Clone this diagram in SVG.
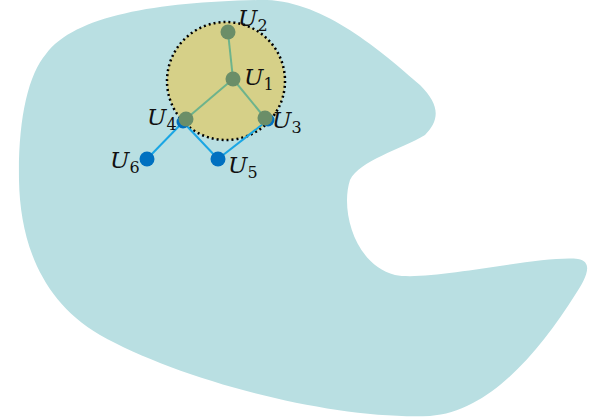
<svg xmlns="http://www.w3.org/2000/svg" width="589" height="420" viewBox="0 0 589 420">
<style>
.lbl{font-family:"DejaVu Serif","Liberation Serif",serif;font-style:italic;font-size:23px;fill:#111}
.sub{font-size:16px;font-style:normal}
.g{fill:#6B8E68}
.b{fill:#0070C0}
.ge{stroke:#6DB38C;stroke-width:2;fill:none}
.be{stroke:#1AA6E4;stroke-width:2;fill:none}
</style>
<path id="region" d="M 46 54 C 75 15, 160 2, 260 0 C 320 -2, 380 50, 420 85 C 440 105, 440 120, 425 135 C 400 150, 360 160, 350 180 C 340 210, 355 265, 395 275 C 430 282, 540 255, 578 259 C 595 262, 585 280, 575 295 C 540 350, 490 412, 430 416 C 330 420, 180 380, 100 335 C 40 300, 20 240, 19 180 C 18 120, 28 75, 46 54 Z" fill="#B9DFE2"/>
<circle id="cluster" cx="226" cy="81" r="59" fill="#D6D088" stroke="#000" stroke-width="2.5" stroke-dasharray="2 3"/>
<g id="connectors">
<line class="be" x1="183" y1="122" x2="147" y2="159"/>
<line class="be" x1="183" y1="122" x2="218" y2="159"/>
<line class="be" x1="218" y1="159" x2="268" y2="120"/>
<line class="ge" x1="233" y1="79" x2="228" y2="32"/>
<line class="ge" x1="233" y1="79" x2="265" y2="118"/>
<line class="ge" x1="233" y1="79" x2="186" y2="119"/>
</g>
<g id="U6"><circle class="b" cx="147" cy="159" r="7.5"/><text class="lbl" x="110" y="168">U<tspan class="sub" dy="5">6</tspan></text></g>
<g id="U5"><circle class="b" cx="218" cy="159" r="7.5"/><text class="lbl" x="228" y="173">U<tspan class="sub" dy="5">5</tspan></text></g>
<g id="U4"><circle class="b" cx="183" cy="122" r="6.5"/><circle class="g" cx="186" cy="119" r="7.5"/><text class="lbl" x="147" y="125">U<tspan class="sub" dy="5">4</tspan></text></g>
<g id="U3"><circle class="b" cx="268" cy="120" r="6.5"/><circle class="g" cx="265" cy="118" r="7.5"/><text class="lbl" x="272" y="128">U<tspan class="sub" dy="5">3</tspan></text></g>
<g id="U2"><circle class="g" cx="228" cy="32" r="7.5"/><text class="lbl" x="238" y="26">U<tspan class="sub" dy="5">2</tspan></text></g>
<g id="U1"><circle class="g" cx="233" cy="79" r="7.5"/><text class="lbl" x="244" y="85">U<tspan class="sub" dy="5">1</tspan></text></g>
</svg>
